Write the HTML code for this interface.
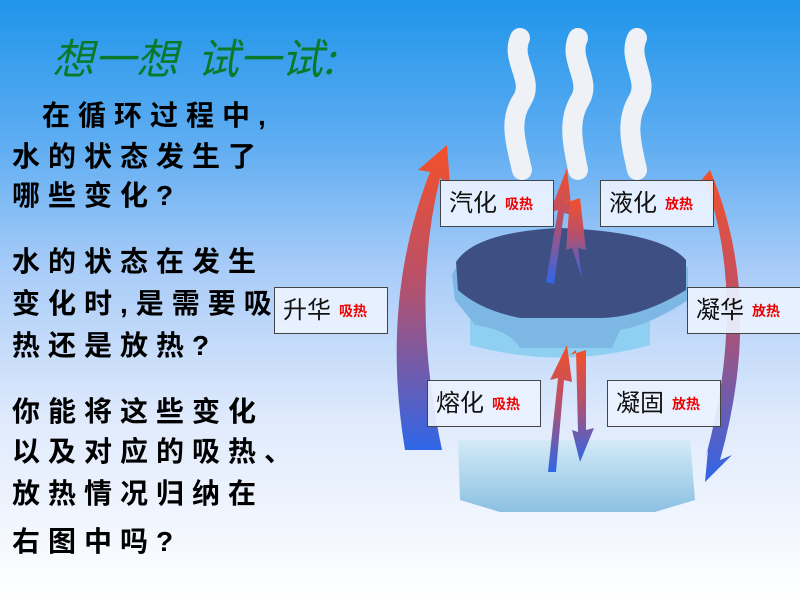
<!DOCTYPE html>
<html><head><meta charset="utf-8"><style>
body{margin:0;width:800px;height:600px;overflow:hidden;position:relative;
background:linear-gradient(to bottom,#1f95ea 0%,#62aef2 25%,#a9ccf8 45%,#dfeafc 70%,#ffffff 100%);
font-family:"Liberation Sans","Noto Sans CJK SC",sans-serif;}
.t{position:absolute;left:12px;font-size:28px;font-weight:bold;letter-spacing:8px;color:#000;white-space:nowrap;line-height:1;}
.title{position:absolute;left:52px;top:34px;font-size:42px;color:#0a7a2a;font-style:italic;font-family:"Noto Sans CJK SC",sans-serif;white-space:nowrap;line-height:1.1}
.b{position:absolute;width:114px;height:47px;border:1px solid #444;background:rgba(235,242,255,.93);box-sizing:border-box;font-size:24px;line-height:45px;padding-left:8px;white-space:nowrap;color:#111}
.b span{color:#e00;font-size:14px;font-weight:bold;margin-left:8px;vertical-align:middle}
</style></head><body>
<svg width="800" height="600" style="position:absolute;left:0;top:0">
<defs>
<linearGradient id="rb" x1="0" y1="0" x2="0" y2="1"><stop offset="0" stop-color="#f4502a"/><stop offset=".45" stop-color="#b8506a"/><stop offset="1" stop-color="#2f66e8"/></linearGradient>
<linearGradient id="ice" x1="0" y1="0" x2="0" y2="1"><stop offset="0" stop-color="#d4ebf8"/><stop offset="1" stop-color="#8cc0e2"/></linearGradient>
</defs>
<g fill="none" stroke="#eef1f6" stroke-width="20" stroke-linecap="round">
<path d="M520 38 C510 60,535 80,522 100 S515 140,522 170"/>
<path d="M578 38 C568 60,592 80,580 100 S572 140,578 170"/>
<path d="M637 38 C627 60,650 80,638 100 S630 140,637 170"/>
</g>
<path d="M458 440 L690 440 L695 500 L655 512 L500 512 L460 500 Z" fill="url(#ice)"/>
<path d="M470 345 Q560 370 650 345 L650 320 L470 320 Z" fill="#8fd0f2"/>
<path d="M452 275 Q470 235 560 230 Q660 232 688 268 L688 300 Q650 325 620 330 L612 348 L520 348 Q510 330 475 325 L455 300 Z" fill="#7db8e4"/>
<path d="M456 262 Q475 232 560 228 Q662 232 686 260 L686 290 Q640 318 600 318 L520 318 Q480 310 458 290 Z" fill="#3e4f84"/>
<path d="M405 450 Q380 300 430 172 L418 170 L447 145 L450 185 L440 178 Q410 300 442 450 Z" fill="url(#rb)"/>
<path d="M710 170 Q765 300 720 460 L732 455 L705 482 L708 450 L706 456 Q748 300 705 180 L698 184 Z" fill="url(#rb)"/>
<path d="M546 282 L558 210 L550 212 L567 168 L572 215 L564 213 L554 284 Z" fill="url(#rb)"/>
<path d="M580 198 L586 250 L578 248 L582 278 L572 248 L566 250 L570 198 L562 204 Z" fill="url(#rb)"/>
<path d="M548 472 L558 378 L550 380 L567 345 L572 382 L564 380 L556 472 Z" fill="url(#rb)"/>
<path d="M586 350 L586 430 L594 428 L580 462 L572 430 L578 432 L576 350 L570 355 Z" fill="url(#rb)"/>
</svg>
<div class="title">想一想&nbsp;&nbsp;试一试:</div>
<div class="t" style="left:42px;top:102px">在循环过程中,</div>
<div class="t" style="top:143px">水的状态发生了</div>
<div class="t" style="top:182px">哪些变化?</div>
<div class="t" style="top:248px">水的状态在发生</div>
<div class="t" style="top:290px">变化时,是需要吸</div>
<div class="t" style="top:332px">热还是放热?</div>
<div class="t" style="top:398px">你能将这些变化</div>
<div class="t" style="top:438px">以及对应的吸热、</div>
<div class="t" style="top:480px">放热情况归纳在</div>
<div class="t" style="top:528px">右图中吗?</div>
<div class="b" style="left:440px;top:180px">汽化<span>吸热</span></div>
<div class="b" style="left:600px;top:180px">液化<span>放热</span></div>
<div class="b" style="left:274px;top:287px">升华<span>吸热</span></div>
<div class="b" style="left:687px;top:287px">凝华<span>放热</span></div>
<div class="b" style="left:427px;top:380px">熔化<span>吸热</span></div>
<div class="b" style="left:607px;top:380px">凝固<span>放热</span></div>
</body></html>
